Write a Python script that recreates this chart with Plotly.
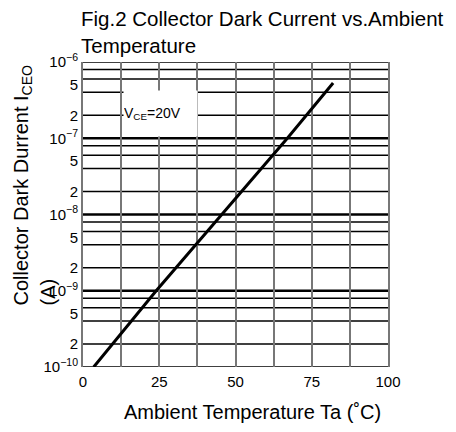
import plotly.graph_objects as go

# ---- data ----
temp = [3.5, 24, 45.5, 67, 82]                 # Ambient temperature Ta (°C)
iceo = [1e-10, 1e-9, 1e-8, 1e-7, 5.3e-7]       # Collector dark current (A)

x_grid = [0, 12.5, 25, 37.5, 50, 62.5, 75, 87.5, 100]
x_grid_text = ["0", "", "25", "", "50", "", "75", "", "100"]

y_ticks = [1e-10, 2e-10, 5e-10, 1e-9, 2e-9, 5e-9, 1e-8, 2e-8, 5e-8,
           1e-7, 2e-7, 5e-7, 1e-6]
y_tick_text = ["10<sup>−10</sup>", "2", "5", "10<sup>−9</sup>", "2", "5",
               "10<sup>−8</sup>", "2", "5", "10<sup>−7</sup>", "2", "5",
               "10<sup>−6</sup>"]
y_minor = [2e-10, 4e-10, 6e-10, 8e-10, 2e-9, 4e-9, 6e-9, 8e-9,
           2e-8, 4e-8, 6e-8, 8e-8, 2e-7, 4e-7, 6e-7, 8e-7]
inner_decades = [1e-9, 1e-8, 1e-7]
outer_decades = [1e-10, 1e-6]

cond_label = "V<sub>CE</sub>=20V"

FONT = "Liberation Sans, Arial"

fig = go.Figure()
fig.add_trace(go.Scatter(x=temp, y=iceo, mode="lines",
                         line=dict(color="black", width=3),
                         hoverinfo="skip", showlegend=False))

shapes = []
for v in y_minor + outer_decades:
    shapes.append(dict(type="line", xref="paper", yref="y", x0=0, x1=1,
                       y0=v, y1=v, line=dict(color="black", width=1.5),
                       layer="below"))
for d in inner_decades:
    shapes.append(dict(type="line", xref="paper", yref="y", x0=0, x1=1,
                       y0=d, y1=d, line=dict(color="black", width=2.5),
                       layer="below"))
fig.update_layout(shapes=shapes)

fig.update_xaxes(range=[0, 100], tickmode="array", tickvals=x_grid,
                 ticktext=x_grid_text,
                 showgrid=True, gridcolor="#777777", gridwidth=2,
                 showline=False, ticks="", zeroline=False,
                 ticklabelstandoff=4,
                 tickfont=dict(family=FONT, size=15, color="black"))
fig.update_yaxes(type="log", range=[-10, -6], tickmode="array",
                 tickvals=y_ticks, ticktext=y_tick_text, showgrid=False,
                 showline=True, linecolor="#777777", linewidth=2, mirror=True,
                 ticks="", zeroline=False, ticklabelstandoff=0,
                 tickfont=dict(family=FONT, size=15, color="black"))

# screen pixel -> paper helpers (plot area spans 83..388 x 62..367 on screen)
def px(p):
    return (p - 83) / 305


def py(p):
    return (367 - p) / 305


annotations = [
    dict(text="Fig.2 Collector Dark Current vs.Ambient<br>Temperature",
         xref="paper", yref="paper", x=px(79), y=py(5),
         xanchor="left", yanchor="top", align="left", showarrow=False,
         font=dict(family=FONT, size=20.5, color="black")),
    dict(text=cond_label, xref="paper", yref="paper",
         x=px(160), y=py(113), width=73, height=45, align="left",
         bgcolor="white", borderpad=0,
         xanchor="center", yanchor="middle", showarrow=False,
         font=dict(family=FONT, size=14, color="black")),
    dict(text="Collector Dark Durrent I<sub>CEO</sub>", xref="paper",
         yref="paper", x=px(22), y=py(308),
         xanchor="center", yanchor="bottom", textangle=-90, showarrow=False,
         font=dict(family=FONT, size=20, color="black")),
    dict(text="(A)", xref="paper", yref="paper", x=px(47),
         y=py(308), xanchor="center", yanchor="bottom",
         textangle=-90, showarrow=False,
         font=dict(family=FONT, size=20, color="black")),
    dict(text="Ambient Temperature Ta (˚C)", xref="paper", yref="paper",
         x=px(252), y=py(412), xanchor="center",
         yanchor="middle", showarrow=False,
         font=dict(family=FONT, size=20, color="black")),
]

# the page body adds an 8px offset; margins compensate so the plot area
# lands on the same screen pixels as the reference
fig.update_layout(
    width=456, height=432,
    margin=dict(l=75, r=76, t=54, b=73),
    paper_bgcolor="white", plot_bgcolor="white",
    annotations=annotations,
    showlegend=False,
)

fig.write_html("out.html")
